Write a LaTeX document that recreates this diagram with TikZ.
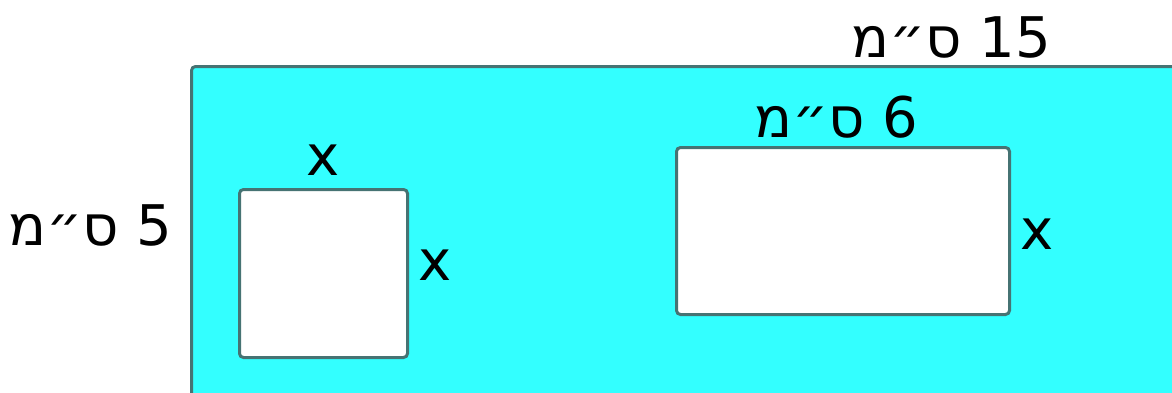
\documentclass[tikz,border=0pt]{standalone}
\usepackage{fontspec}
\TeXXeTstate=1
\newfontfamily\hebfont[Script=Hebrew]{DejaVu Sans}
\definecolor{cyanfill}{RGB}{51,255,255}
\definecolor{edgecol}{RGB}{70,115,115}
\tikzset{
  shapebox/.style={draw=edgecol, line width=3pt, rounded corners=4pt},
  lbl/.style={font=\hebfont\fontsize{56}{60}\selectfont, inner sep=0pt, text=black}
}
\begin{document}
\begin{tikzpicture}[x=1pt,y=1pt]
\useasboundingbox (0,0) rectangle (1172,392);
\clip (0,0) rectangle (1172,392);
\fill[white] (0,0) rectangle (1172,392);
\node[shapebox, fill=cyanfill, minimum width=1000pt, minimum height=340pt, anchor=north west, inner sep=0pt] (outer) at (190,327) {};
\node[shapebox, fill=white, minimum width=168pt, minimum height=168pt, anchor=north west, inner sep=0pt] (sq) at (238,204) {};
\node[shapebox, fill=white, minimum width=333pt, minimum height=167pt, anchor=north west, inner sep=0pt] (rect) at (675,246) {};
\node[lbl] (t15) at (951,355) {\beginR\beginL 15\endL\ ס״מ\endR};
\node[lbl] (t5) at (90,167) {\beginR\beginL 5\endL\ ס״מ\endR};
\node[lbl] (t6) at (836,275) {\beginR\beginL 6\endL\ ס״מ\endR};
\node[lbl] (xa) at (323,232) {x};
\node[lbl] (xb) at (435,127) {x};
\node[lbl] (xc) at (1037,158) {x};
\end{tikzpicture}
\end{document}
